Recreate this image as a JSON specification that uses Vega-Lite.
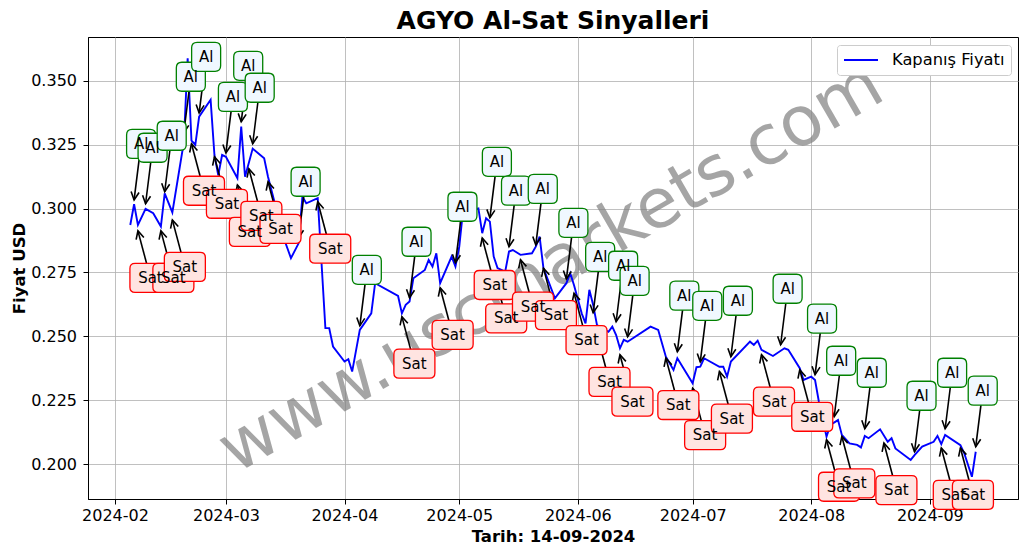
{
  "$schema": "https://vega.github.io/schema/vega-lite/v6.json",
  "width": 930,
  "height": 462,
  "autosize": {"type": "none"},
  "padding": {"left": 88, "top": 37, "right": 10, "bottom": 55},
  "background": "white",
  "title": {"text": "AGYO Al-Sat Sinyalleri", "font": "DejaVu Sans", "fontSize": 25, "fontWeight": "bold", "color": "black", "anchor": "middle", "frame": "group", "baseline": "bottom", "offset": 2.5, "dy": 24},
  "config": {
    "view": {"stroke": "black", "strokeWidth": 1},
    "axis": {"domainColor": "black", "domainWidth": 1, "tickColor": "black", "tickWidth": 1, "tickSize": 5, "labelFont": "DejaVu Sans", "labelFontSize": 16, "labelColor": "black", "gridColor": "#b0b0b0", "gridWidth": 0.8, "titleFont": "DejaVu Sans", "titleFontSize": 16.5, "titleFontWeight": "bold", "titleColor": "black"}
  },
  "datasets": {
    "fiyat": [
      {"tarih": "2024-02-05", "fiyat": 0.2936}, {"tarih": "2024-02-06", "fiyat": 0.3017}, {"tarih": "2024-02-07", "fiyat": 0.2936}, {"tarih": "2024-02-09", "fiyat": 0.2999}, {"tarih": "2024-02-11", "fiyat": 0.2982}, {"tarih": "2024-02-13", "fiyat": 0.2930}, {"tarih": "2024-02-14", "fiyat": 0.3060}, {"tarih": "2024-02-16", "fiyat": 0.2985}, {"tarih": "2024-02-19", "fiyat": 0.3260}, {"tarih": "2024-02-20", "fiyat": 0.3589}, {"tarih": "2024-02-21", "fiyat": 0.3266}, {"tarih": "2024-02-22", "fiyat": 0.3250}, {"tarih": "2024-02-23", "fiyat": 0.3360}, {"tarih": "2024-02-26", "fiyat": 0.3426}, {"tarih": "2024-02-27", "fiyat": 0.3210}, {"tarih": "2024-02-28", "fiyat": 0.3130}, {"tarih": "2024-02-29", "fiyat": 0.3210},
      {"tarih": "2024-03-01", "fiyat": 0.3203}, {"tarih": "2024-03-04", "fiyat": 0.3119}, {"tarih": "2024-03-05", "fiyat": 0.3321}, {"tarih": "2024-03-06", "fiyat": 0.3125}, {"tarih": "2024-03-08", "fiyat": 0.3235}, {"tarih": "2024-03-11", "fiyat": 0.3197}, {"tarih": "2024-03-12", "fiyat": 0.3125}, {"tarih": "2024-03-14", "fiyat": 0.3008}, {"tarih": "2024-03-16", "fiyat": 0.2890}, {"tarih": "2024-03-18", "fiyat": 0.2806}, {"tarih": "2024-03-20", "fiyat": 0.2864}, {"tarih": "2024-03-21", "fiyat": 0.3047}, {"tarih": "2024-03-22", "fiyat": 0.3021}, {"tarih": "2024-03-25", "fiyat": 0.3041}, {"tarih": "2024-03-26", "fiyat": 0.2786}, {"tarih": "2024-03-27", "fiyat": 0.2532}, {"tarih": "2024-03-28", "fiyat": 0.2532}, {"tarih": "2024-03-29", "fiyat": 0.2460},
      {"tarih": "2024-04-01", "fiyat": 0.2401}, {"tarih": "2024-04-02", "fiyat": 0.2410}, {"tarih": "2024-04-03", "fiyat": 0.2362}, {"tarih": "2024-04-05", "fiyat": 0.2525}, {"tarih": "2024-04-08", "fiyat": 0.2590}, {"tarih": "2024-04-09", "fiyat": 0.2708}, {"tarih": "2024-04-15", "fiyat": 0.2658}, {"tarih": "2024-04-16", "fiyat": 0.2590}, {"tarih": "2024-04-17", "fiyat": 0.2623}, {"tarih": "2024-04-18", "fiyat": 0.2636}, {"tarih": "2024-04-19", "fiyat": 0.2727}, {"tarih": "2024-04-22", "fiyat": 0.2760}, {"tarih": "2024-04-23", "fiyat": 0.2799}, {"tarih": "2024-04-24", "fiyat": 0.2773}, {"tarih": "2024-04-25", "fiyat": 0.2825}, {"tarih": "2024-04-26", "fiyat": 0.2708}, {"tarih": "2024-04-29", "fiyat": 0.2812}, {"tarih": "2024-04-30", "fiyat": 0.2773},
      {"tarih": "2024-05-01", "fiyat": 0.2851}, {"tarih": "2024-05-02", "fiyat": 0.2995}, {"tarih": "2024-05-03", "fiyat": 0.2990}, {"tarih": "2024-05-06", "fiyat": 0.3001}, {"tarih": "2024-05-07", "fiyat": 0.2904}, {"tarih": "2024-05-08", "fiyat": 0.2962}, {"tarih": "2024-05-09", "fiyat": 0.2949}, {"tarih": "2024-05-10", "fiyat": 0.2812}, {"tarih": "2024-05-11", "fiyat": 0.2767}, {"tarih": "2024-05-13", "fiyat": 0.2753}, {"tarih": "2024-05-14", "fiyat": 0.2832}, {"tarih": "2024-05-15", "fiyat": 0.2838}, {"tarih": "2024-05-17", "fiyat": 0.2819}, {"tarih": "2024-05-20", "fiyat": 0.2825}, {"tarih": "2024-05-21", "fiyat": 0.2851}, {"tarih": "2024-05-22", "fiyat": 0.2890}, {"tarih": "2024-05-23", "fiyat": 0.2767}, {"tarih": "2024-05-26", "fiyat": 0.2649}, {"tarih": "2024-05-29", "fiyat": 0.2708}, {"tarih": "2024-05-30", "fiyat": 0.2747}, {"tarih": "2024-05-31", "fiyat": 0.2700},
      {"tarih": "2024-06-02", "fiyat": 0.2590}, {"tarih": "2024-06-03", "fiyat": 0.2551}, {"tarih": "2024-06-04", "fiyat": 0.2682}, {"tarih": "2024-06-05", "fiyat": 0.2623}, {"tarih": "2024-06-06", "fiyat": 0.2544}, {"tarih": "2024-06-09", "fiyat": 0.2518}, {"tarih": "2024-06-10", "fiyat": 0.2538}, {"tarih": "2024-06-11", "fiyat": 0.2505}, {"tarih": "2024-06-12", "fiyat": 0.2453}, {"tarih": "2024-06-13", "fiyat": 0.2486}, {"tarih": "2024-06-14", "fiyat": 0.2479}, {"tarih": "2024-06-20", "fiyat": 0.2538}, {"tarih": "2024-06-22", "fiyat": 0.2525}, {"tarih": "2024-06-24", "fiyat": 0.2420}, {"tarih": "2024-06-26", "fiyat": 0.2368}, {"tarih": "2024-06-27", "fiyat": 0.2414},
      {"tarih": "2024-07-01", "fiyat": 0.2316}, {"tarih": "2024-07-02", "fiyat": 0.2379}, {"tarih": "2024-07-03", "fiyat": 0.2381}, {"tarih": "2024-07-04", "fiyat": 0.2414}, {"tarih": "2024-07-08", "fiyat": 0.2381}, {"tarih": "2024-07-09", "fiyat": 0.2381}, {"tarih": "2024-07-10", "fiyat": 0.2342}, {"tarih": "2024-07-11", "fiyat": 0.2401}, {"tarih": "2024-07-16", "fiyat": 0.2479}, {"tarih": "2024-07-17", "fiyat": 0.2466}, {"tarih": "2024-07-18", "fiyat": 0.2483}, {"tarih": "2024-07-19", "fiyat": 0.2447}, {"tarih": "2024-07-22", "fiyat": 0.2423}, {"tarih": "2024-07-25", "fiyat": 0.2453}, {"tarih": "2024-07-26", "fiyat": 0.2447}, {"tarih": "2024-07-29", "fiyat": 0.2375}, {"tarih": "2024-07-30", "fiyat": 0.2329},
      {"tarih": "2024-08-01", "fiyat": 0.2342}, {"tarih": "2024-08-02", "fiyat": 0.2329}, {"tarih": "2024-08-03", "fiyat": 0.2244}, {"tarih": "2024-08-05", "fiyat": 0.2107}, {"tarih": "2024-08-06", "fiyat": 0.2153}, {"tarih": "2024-08-08", "fiyat": 0.2172}, {"tarih": "2024-08-09", "fiyat": 0.2114}, {"tarih": "2024-08-11", "fiyat": 0.2081}, {"tarih": "2024-08-13", "fiyat": 0.2075}, {"tarih": "2024-08-14", "fiyat": 0.2065}, {"tarih": "2024-08-15", "fiyat": 0.2110}, {"tarih": "2024-08-16", "fiyat": 0.2101}, {"tarih": "2024-08-19", "fiyat": 0.2136}, {"tarih": "2024-08-21", "fiyat": 0.2087}, {"tarih": "2024-08-22", "fiyat": 0.2101}, {"tarih": "2024-08-23", "fiyat": 0.2061}, {"tarih": "2024-08-27", "fiyat": 0.2016}, {"tarih": "2024-08-28", "fiyat": 0.2035}, {"tarih": "2024-08-30", "fiyat": 0.2068},
      {"tarih": "2024-09-02", "fiyat": 0.2087}, {"tarih": "2024-09-03", "fiyat": 0.2110}, {"tarih": "2024-09-04", "fiyat": 0.2078}, {"tarih": "2024-09-05", "fiyat": 0.2114}, {"tarih": "2024-09-09", "fiyat": 0.2074}, {"tarih": "2024-09-10", "fiyat": 0.2042}, {"tarih": "2024-09-12", "fiyat": 0.1950}, {"tarih": "2024-09-13", "fiyat": 0.2048}
    ],
    "sinyaller": [
      {"sinyal": "Al", "tarih": "2024-02-06", "fiyat": 0.3034}, {"sinyal": "Sat", "tarih": "2024-02-07", "fiyat": 0.2913}, {"sinyal": "Al", "tarih": "2024-02-09", "fiyat": 0.3019}, {"sinyal": "Sat", "tarih": "2024-02-13", "fiyat": 0.2913}, {"sinyal": "Al", "tarih": "2024-02-14", "fiyat": 0.3066}, {"sinyal": "Sat", "tarih": "2024-02-16", "fiyat": 0.2956}, {"sinyal": "Al", "tarih": "2024-02-19", "fiyat": 0.3297}, {"sinyal": "Sat", "tarih": "2024-02-21", "fiyat": 0.3254}, {"sinyal": "Al", "tarih": "2024-02-23", "fiyat": 0.3375}, {"sinyal": "Sat", "tarih": "2024-02-27", "fiyat": 0.3203}, {"sinyal": "Al", "tarih": "2024-03-01", "fiyat": 0.3218}, {"sinyal": "Sat", "tarih": "2024-03-04", "fiyat": 0.3093}, {"sinyal": "Al", "tarih": "2024-03-05", "fiyat": 0.3340}, {"sinyal": "Sat", "tarih": "2024-03-07", "fiyat": 0.3156}, {"sinyal": "Al", "tarih": "2024-03-08", "fiyat": 0.3254}, {"sinyal": "Sat", "tarih": "2024-03-12", "fiyat": 0.3105}, {"sinyal": "Al", "tarih": "2024-03-20", "fiyat": 0.2886}, {"sinyal": "Sat", "tarih": "2024-03-25", "fiyat": 0.3027}, {"sinyal": "Al", "tarih": "2024-04-05", "fiyat": 0.2541}, {"sinyal": "Sat", "tarih": "2024-04-16", "fiyat": 0.2577}, {"sinyal": "Al", "tarih": "2024-04-18", "fiyat": 0.2651}, {"sinyal": "Sat", "tarih": "2024-04-26", "fiyat": 0.2690}, {"sinyal": "Al", "tarih": "2024-04-30", "fiyat": 0.2788}, {"sinyal": "Sat", "tarih": "2024-05-07", "fiyat": 0.2885}, {"sinyal": "Al", "tarih": "2024-05-09", "fiyat": 0.2964}, {"sinyal": "Sat", "tarih": "2024-05-10", "fiyat": 0.2754}, {"sinyal": "Al", "tarih": "2024-05-14", "fiyat": 0.2851}, {"sinyal": "Sat", "tarih": "2024-05-17", "fiyat": 0.2800}, {"sinyal": "Al", "tarih": "2024-05-21", "fiyat": 0.2858}, {"sinyal": "Sat", "tarih": "2024-05-23", "fiyat": 0.2767}, {"sinyal": "Al", "tarih": "2024-05-29", "fiyat": 0.2725}, {"sinyal": "Sat", "tarih": "2024-05-31", "fiyat": 0.2669}, {"sinyal": "Al", "tarih": "2024-06-05", "fiyat": 0.2592}, {"sinyal": "Sat", "tarih": "2024-06-06", "fiyat": 0.2506}, {"sinyal": "Al", "tarih": "2024-06-11", "fiyat": 0.2557}, {"sinyal": "Sat", "tarih": "2024-06-12", "fiyat": 0.2428}, {"sinyal": "Al", "tarih": "2024-06-14", "fiyat": 0.2498}, {"sinyal": "Sat", "tarih": "2024-06-24", "fiyat": 0.2415}, {"sinyal": "Al", "tarih": "2024-06-27", "fiyat": 0.2440}, {"sinyal": "Sat", "tarih": "2024-07-01", "fiyat": 0.2297}, {"sinyal": "Al", "tarih": "2024-07-03", "fiyat": 0.2400}, {"sinyal": "Sat", "tarih": "2024-07-08", "fiyat": 0.2362}, {"sinyal": "Al", "tarih": "2024-07-11", "fiyat": 0.2420}, {"sinyal": "Sat", "tarih": "2024-07-19", "fiyat": 0.2428}, {"sinyal": "Al", "tarih": "2024-07-24", "fiyat": 0.2467}, {"sinyal": "Sat", "tarih": "2024-07-29", "fiyat": 0.2369}, {"sinyal": "Al", "tarih": "2024-08-02", "fiyat": 0.2350}, {"sinyal": "Sat", "tarih": "2024-08-05", "fiyat": 0.2095}, {"sinyal": "Al", "tarih": "2024-08-07", "fiyat": 0.2185}, {"sinyal": "Sat", "tarih": "2024-08-09", "fiyat": 0.2108}, {"sinyal": "Al", "tarih": "2024-08-15", "fiyat": 0.2138}, {"sinyal": "Sat", "tarih": "2024-08-20", "fiyat": 0.2082}, {"sinyal": "Al", "tarih": "2024-08-28", "fiyat": 0.2048}, {"sinyal": "Sat", "tarih": "2024-09-04", "fiyat": 0.2063}, {"sinyal": "Al", "tarih": "2024-09-05", "fiyat": 0.2138}, {"sinyal": "Sat", "tarih": "2024-09-09", "fiyat": 0.2063}, {"sinyal": "Al", "tarih": "2024-09-13", "fiyat": 0.2068}
    ],
    "filigran": [{"metin": "www.uscmarkets.com", "tarih": "2024-05-25", "fiyat": 0.27675}]
  },
  "encoding": {
    "x": {"field": "tarih", "type": "temporal", "title": "Tarih: 14-09-2024",
      "scale": {"type": "utc", "domain": [{"year": 2024, "month": 1, "date": 24, "hours": 22, "minutes": 48, "utc": true}, {"year": 2024, "month": 9, "date": 24, "hours": 1, "minutes": 12, "utc": true}]},
      "axis": {"values": [{"year": 2024, "month": 2, "date": 1, "utc": true}, {"year": 2024, "month": 3, "date": 1, "utc": true}, {"year": 2024, "month": 4, "date": 1, "utc": true}, {"year": 2024, "month": 5, "date": 1, "utc": true}, {"year": 2024, "month": 6, "date": 1, "utc": true}, {"year": 2024, "month": 7, "date": 1, "utc": true}, {"year": 2024, "month": 8, "date": 1, "utc": true}, {"year": 2024, "month": 9, "date": 1, "utc": true}], "labelExpr": "utcFormat(datum.value, '%Y-%m')", "labelPadding": 3.4, "titlePadding": 5, "titleBaseline": "top", "labelFlush": false, "labelOverlap": false}},
    "y": {"field": "fiyat", "type": "quantitative", "title": "Fiyat USD",
      "scale": {"domain": [0.1863, 0.3672], "zero": false, "nice": false},
      "axis": {"values": [0.2, 0.225, 0.25, 0.275, 0.3, 0.325, 0.35], "format": ".3f", "labelPadding": 6.5, "titlePadding": 3}}
  },
  "layer": [
    {"data": {"name": "filigran"}, "mark": {"type": "text", "font": "DejaVu Sans", "fontSize": 69, "angle": 330, "align": "center", "baseline": "middle", "color": "#808080", "opacity": 0.7}, "encoding": {"text": {"field": "metin"}}},
    {"data": {"name": "fiyat"}, "mark": {"type": "line", "strokeWidth": 1.9}, "encoding": {"color": {"datum": "Kapanış Fiyatı", "type": "nominal", "scale": {"range": ["#0000ff"]}, "legend": {"title": null, "orient": "top-right", "offset": 7.5, "labelFont": "DejaVu Sans", "labelFontSize": 16.3, "labelColor": "black", "symbolType": "M-1,0L3.25,0", "symbolSize": 256, "symbolStrokeWidth": 1.9, "labelOffset": 31, "padding": 6, "fillColor": "white", "strokeColor": "#cccccc", "cornerRadius": 3}}}},
    {"data": {"name": "sinyaller"}, "transform": [{"filter": "datum.sinyal === 'Al'"}], "mark": {"type": "rule", "color": "black", "strokeWidth": 1.6, "x2Offset": 7, "y2Offset": -56}, "encoding": {"x2": {"field": "tarih"}, "y2": {"field": "fiyat"}}},
    {"data": {"name": "sinyaller"}, "transform": [{"filter": "datum.sinyal === 'Sat'"}], "mark": {"type": "rule", "color": "black", "strokeWidth": 1.6, "x2Offset": 12.5, "y2Offset": 47}, "encoding": {"x2": {"field": "tarih"}, "y2": {"field": "fiyat"}}},
    {"data": {"name": "sinyaller"}, "transform": [{"filter": "datum.sinyal === 'Al'"}], "mark": {"type": "point", "shape": "M-0.5,-1L0,0L0.5,-1", "size": 256, "filled": false, "stroke": "black", "strokeWidth": 1.6, "opacity": 1, "angle": 7}},
    {"data": {"name": "sinyaller"}, "transform": [{"filter": "datum.sinyal === 'Sat'"}], "mark": {"type": "point", "shape": "M-0.5,-1L0,0L0.5,-1", "size": 256, "filled": false, "stroke": "black", "strokeWidth": 1.6, "opacity": 1, "angle": 165}},
    {"data": {"name": "sinyaller"}, "transform": [{"filter": "datum.sinyal === 'Al'"}], "mark": {"type": "point", "shape": "M-0.62,-1L0.62,-1Q1,-1 1,-0.62L1,0.62Q1,1 0.62,1L-0.62,1Q-1,1 -1,0.62L-1,-0.62Q-1,-1 -0.62,-1Z", "size": 841, "filled": true, "fill": "#f0f8ff", "stroke": "#008000", "strokeWidth": 1.3, "opacity": 1, "fillOpacity": 1, "xOffset": 7, "yOffset": -56}},
    {"data": {"name": "sinyaller"}, "transform": [{"filter": "datum.sinyal === 'Al'"}], "mark": {"type": "text", "font": "DejaVu Sans", "fontSize": 15, "color": "black", "align": "center", "baseline": "middle", "xOffset": 7, "yOffset": -56}, "encoding": {"text": {"field": "sinyal"}}},
    {"data": {"name": "sinyaller"}, "transform": [{"filter": "datum.sinyal === 'Sat'"}], "mark": {"type": "point", "shape": "M-0.75,-0.707L0.75,-0.707Q1,-0.707 1,-0.457L1,0.457Q1,0.707 0.75,0.707L-0.75,0.707Q-1,0.707 -1,0.457L-1,-0.457Q-1,-0.707 -0.75,-0.707Z", "size": 1681, "filled": true, "fill": "#ffe4e1", "stroke": "#ff0000", "strokeWidth": 1.3, "opacity": 1, "fillOpacity": 1, "xOffset": 12.5, "yOffset": 47}},
    {"data": {"name": "sinyaller"}, "transform": [{"filter": "datum.sinyal === 'Sat'"}], "mark": {"type": "text", "font": "DejaVu Sans", "fontSize": 15, "color": "black", "align": "center", "baseline": "middle", "xOffset": 12.5, "yOffset": 47}, "encoding": {"text": {"field": "sinyal"}}}
  ]
}
